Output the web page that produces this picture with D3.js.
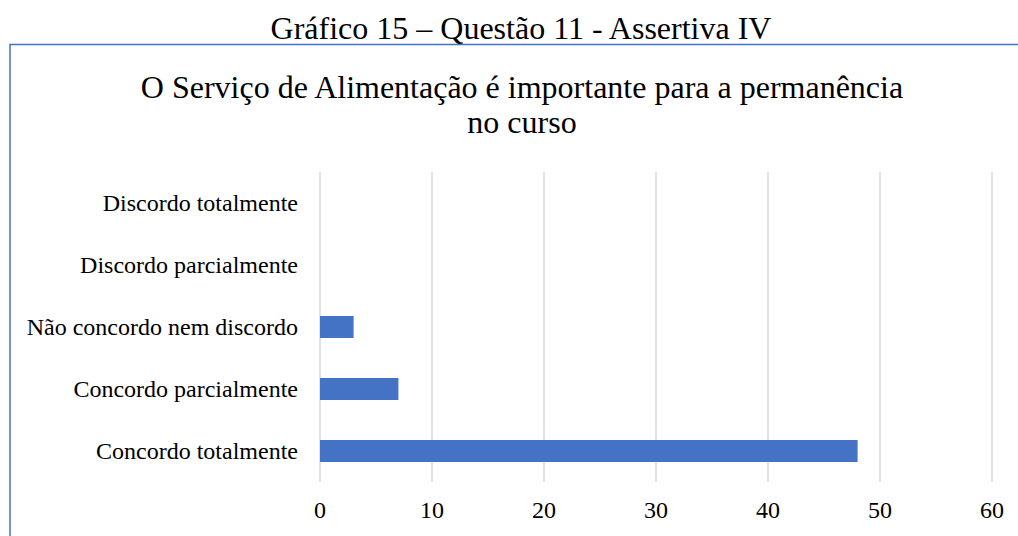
<!DOCTYPE html>
<html>
<head>
<meta charset="utf-8">
<script src="https://cdn.jsdelivr.net/npm/d3@7"></script>
<style>
  html, body { margin: 0; padding: 0; background: #fff; }
  text { font-family: "Liberation Serif", "Times New Roman", serif; fill: #000; }
</style>
</head>
<body>
<svg id="chart"></svg>
<script>
const width = 1018;
const height = 536;
const serif = "'Liberation Serif', 'Times New Roman', serif";

// data, top to bottom as in the chart
const categories = [
  "Discordo totalmente",
  "Discordo parcialmente",
  "Não concordo nem discordo",
  "Concordo parcialmente",
  "Concordo totalmente"
];
const values = [0, 0, 3, 7, 48];
const tickValues = [0, 10, 20, 30, 40, 50, 60];

const caption = "Gráfico 15 – Questão 11 - Assertiva IV";
const titleLines = ["O Serviço de Alimentação é importante para a permanência", "no curso"];

const svg = d3.select("#chart")
  .attr("width", width)
  .attr("height", height)
  .attr("font-family", serif);

// caption above the box
svg.append("text")
  .attr("x", 521)
  .attr("y", 39)
  .attr("text-anchor", "middle")
  .attr("font-family", serif)
  .style("font-size", "32px")
  .text(caption);

// chart border (runs off right and bottom)
svg.append("rect")
  .attr("x", 10)
  .attr("y", 44.5)
  .attr("width", 1100)
  .attr("height", 600)
  .attr("fill", "none")
  .attr("stroke", "#4472C4")
  .attr("stroke-width", 1.5);

// chart title
svg.append("g")
  .selectAll("text")
  .data(titleLines)
  .join("text")
  .attr("x", 522)
  .attr("y", (d, i) => 98 + i * 35)
  .attr("text-anchor", "middle")
  .attr("font-family", serif)
  .style("font-size", "32px")
  .text(d => d);

//scales
const x = d3.scaleLinear().domain([0, 60]).range([320, 992]);
const y = d3.scaleBand()
  .domain(categories)
  .range([172, 482])
  .paddingInner(0.645)
  .paddingOuter(0.3225);

// gridlines
svg.append("g")
  .selectAll("line")
  .data(tickValues)
  .join("line")
  .attr("x1", d => x(d))
  .attr("x2", d => x(d))
  .attr("y1", 172)
  .attr("y2", 482)
  .attr("stroke", "#d9d9d9")
  .attr("stroke-width", 1.5);

// bars
svg.append("g")
  .selectAll("rect")
  .data(values)
  .join("rect")
  .attr("x", x(0))
  .attr("y", (d, i) => y(categories[i]))
  .attr("width", d => x(d) - x(0))
  .attr("height", y.bandwidth())
  .attr("fill", "#4472C4");

// category labels
svg.append("g")
  .selectAll("text")
  .data(categories)
  .join("text")
  .attr("x", 298)
  .attr("y", d => y(d) + y.bandwidth() / 2)
  .attr("dy", "0.35em")
  .attr("text-anchor", "end")
  .attr("font-family", serif)
  .style("font-size", "24px")
  .text(d => d);

// x tick labels
svg.append("g")
  .selectAll("text")
  .data(tickValues)
  .join("text")
  .attr("x", d => x(d))
  .attr("y", 518)
  .attr("text-anchor", "middle")
  .attr("font-family", serif)
  .style("font-size", "24px")
  .text(d => d);
</script>
</body>
</html>
